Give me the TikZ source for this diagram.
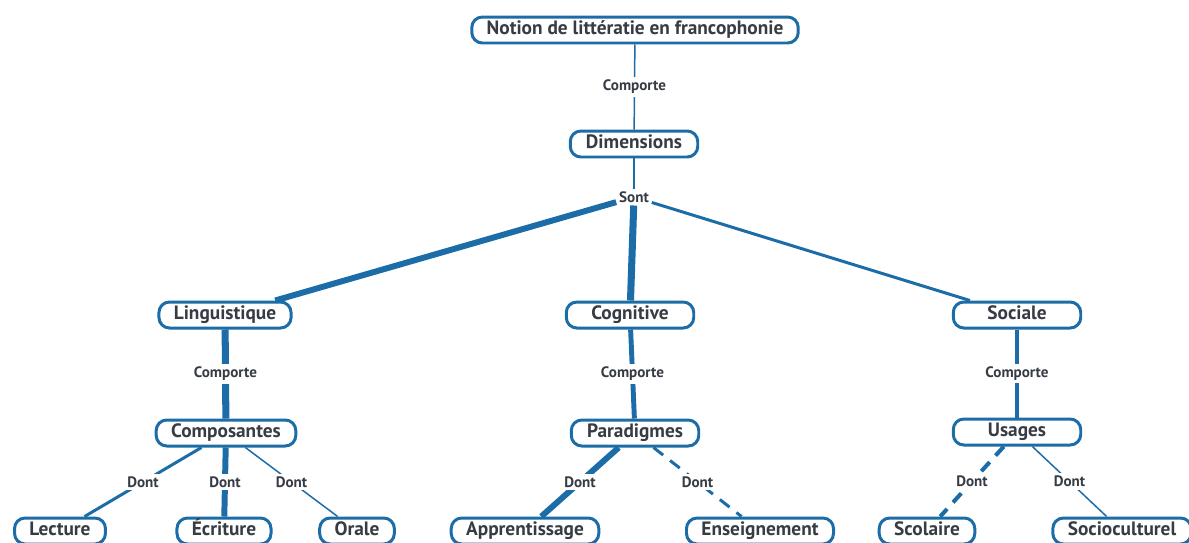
\documentclass[tikz,border=0pt]{standalone}
\usepackage{fontspec}
\setmainfont{PT Sans}
\usetikzlibrary{positioning}
\definecolor{mapblue}{RGB}{28,108,168}
\definecolor{maptext}{RGB}{55,60,68}
\tikzset{
  concept/.style={draw=mapblue, line width=1.7pt, rounded corners=6pt, fill=white,
    text=maptext, font=\bfseries\fontsize{11}{13}\selectfont,
    text height=8pt, text depth=2.5pt,
    minimum height=0.52cm, inner xsep=8.5pt, inner ysep=2pt},
  wide/.style={minimum width=2.55cm},
  rel/.style={fill=white, text=maptext, font=\bfseries\fontsize{8.6}{10}\selectfont, inner sep=1.5pt},
  link/.style={draw=mapblue},
  hair/.style={line width=0.85pt},
  mid/.style={line width=1.7pt},
  heavy/.style={line width=3.4pt},
  heavier/.style={line width=4pt},
  broken/.style={dash pattern=on 7pt off 5pt}
}

\begin{document}
\begin{tikzpicture}[x=0.02cm, y=-0.02cm]
  \useasboundingbox (0,0) rectangle (1189,542);

  % top of the map
  \node[concept] (notion) at (635,30) {Notion de littératie en francophonie};
  \node[concept, wide] (dim) at (634,144) {Dimensions};
  \node[rel] (sont) at (634,197) {Sont};

  % the three dimensions
  \node[concept, wide] (ling) at (225,315) {Linguistique};
  \node[concept, wide] (cog) at (630,315) {Cognitive};
  \node[concept, wide] (soc) at (1017,315) {Sociale};

  \node[concept, wide] (comp) at (226,433) {Composantes};
  \node[concept, wide] (para) at (635,433) {Paradigmes};
  \node[concept, wide] (usa) at (1017,432) {Usages};

  % leaves (cut by the lower edge)
  \node[concept] (lect) at (60,531) {Lecture};
  \node[concept] (ecr) at (224,531) {Écriture};
  \node[concept] (orale) at (357,531) {Orale};
  \node[concept] (appr) at (525,531) {Apprentissage};
  \node[concept] (ens) at (760,531) {Enseignement};
  \node[concept] (scol) at (927,531) {Scolaire};
  \node[concept] (socio) at (1122,531) {Socioculturel};

  \draw[link, hair] (notion) -- node[rel] {Comporte} (dim);
  \draw[link, hair] (dim) -- (sont);
  \draw[link, heavy] (sont) -- (ling);
  \draw[link, heavier] (sont) -- (cog);
  \draw[link, mid] (sont) -- (soc);

  \draw[link, heavier] (ling) -- node[rel] {Comporte} (comp);
  \draw[link, line width=2.8pt] (cog) -- node[rel] {Comporte} (para);
  \draw[link, line width=2.8pt] (soc) -- node[rel] {Comporte} (usa);

  \draw[link, mid] (comp) -- node[rel] {Dont} (lect);
  \draw[link, heavy] (comp) -- node[rel] {Dont} (ecr);
  \draw[link, hair] (comp) -- node[rel] {Dont} (orale);
  \draw[link, heavy] (para) -- node[rel] {Dont} (appr);
  \draw[link, mid, broken] (para) -- node[rel] {Dont} (ens);
  \draw[link, line width=2.3pt, broken] (usa) -- node[rel] {Dont} (scol);
  \draw[link, hair] (usa) -- node[rel] {Dont} (socio);
\end{tikzpicture}
\end{document}
